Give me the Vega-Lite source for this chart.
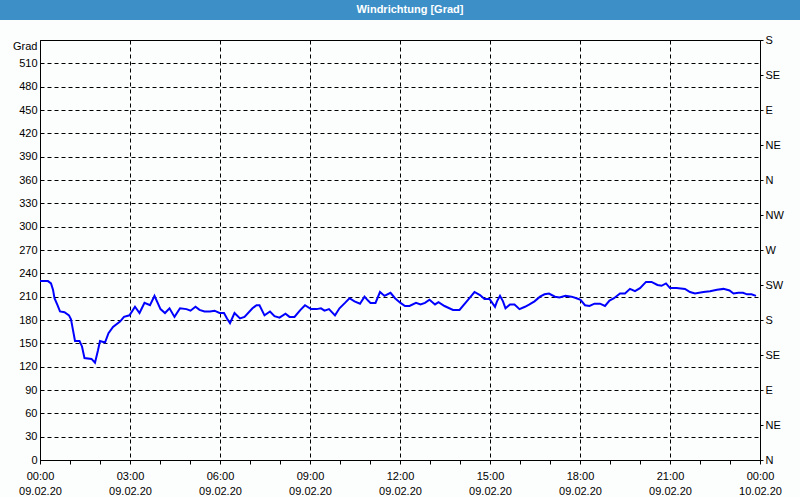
{
  "$schema": "https://vega.github.io/schema/vega-lite/v6.json",
  "padding": 0,
  "background": "#fcfdfd",
  "spacing": 20,
  "center": true,
  "bounds": "flush",
  "config": {
    "font": "Liberation Sans",
    "axis": {"labelFont": "Liberation Sans", "labelFontSize": 11, "labelColor": "#000", "titleFont": "Liberation Sans", "titleFontSize": 11, "titleFontWeight": "normal", "titleColor": "#000", "domainColor": "#000", "tickColor": "#000", "gridColor": "#000", "gridDash": [4, 3], "gridWidth": 1}
  },
  "datasets": {
    "wind": [
      {"t": "2020-02-09T00:00:00", "v": 230}, {"t": "2020-02-09T00:16:00", "v": 230}, {"t": "2020-02-09T00:22:00", "v": 227},
      {"t": "2020-02-09T00:26:00", "v": 219}, {"t": "2020-02-09T00:29:00", "v": 208}, {"t": "2020-02-09T00:35:00", "v": 199},
      {"t": "2020-02-09T00:40:00", "v": 191}, {"t": "2020-02-09T00:49:00", "v": 190}, {"t": "2020-02-09T00:58:00", "v": 186},
      {"t": "2020-02-09T01:02:00", "v": 181}, {"t": "2020-02-09T01:06:00", "v": 167}, {"t": "2020-02-09T01:10:00", "v": 153},
      {"t": "2020-02-09T01:19:00", "v": 153}, {"t": "2020-02-09T01:24:00", "v": 146}, {"t": "2020-02-09T01:29:00", "v": 131},
      {"t": "2020-02-09T01:43:00", "v": 130}, {"t": "2020-02-09T01:50:00", "v": 125}, {"t": "2020-02-09T01:56:00", "v": 141},
      {"t": "2020-02-09T02:00:00", "v": 153}, {"t": "2020-02-09T02:10:00", "v": 151}, {"t": "2020-02-09T02:17:00", "v": 163},
      {"t": "2020-02-09T02:26:00", "v": 171}, {"t": "2020-02-09T02:40:00", "v": 178}, {"t": "2020-02-09T02:48:00", "v": 184},
      {"t": "2020-02-09T02:59:00", "v": 186}, {"t": "2020-02-09T03:10:00", "v": 197}, {"t": "2020-02-09T03:19:00", "v": 189},
      {"t": "2020-02-09T03:29:00", "v": 202}, {"t": "2020-02-09T03:40:00", "v": 199}, {"t": "2020-02-09T03:49:00", "v": 211},
      {"t": "2020-02-09T04:01:00", "v": 194}, {"t": "2020-02-09T04:10:00", "v": 189}, {"t": "2020-02-09T04:19:00", "v": 195},
      {"t": "2020-02-09T04:29:00", "v": 184}, {"t": "2020-02-09T04:40:00", "v": 195}, {"t": "2020-02-09T04:53:00", "v": 194},
      {"t": "2020-02-09T05:01:00", "v": 192}, {"t": "2020-02-09T05:11:00", "v": 197}, {"t": "2020-02-09T05:19:00", "v": 193},
      {"t": "2020-02-09T05:29:00", "v": 191}, {"t": "2020-02-09T05:40:00", "v": 191}, {"t": "2020-02-09T05:49:00", "v": 192},
      {"t": "2020-02-09T05:59:00", "v": 189}, {"t": "2020-02-09T06:08:00", "v": 189}, {"t": "2020-02-09T06:14:00", "v": 182},
      {"t": "2020-02-09T06:20:00", "v": 176}, {"t": "2020-02-09T06:29:00", "v": 189}, {"t": "2020-02-09T06:40:00", "v": 182},
      {"t": "2020-02-09T06:49:00", "v": 184}, {"t": "2020-02-09T07:05:00", "v": 195}, {"t": "2020-02-09T07:13:00", "v": 199},
      {"t": "2020-02-09T07:19:00", "v": 199}, {"t": "2020-02-09T07:29:00", "v": 186}, {"t": "2020-02-09T07:40:00", "v": 191},
      {"t": "2020-02-09T07:49:00", "v": 185}, {"t": "2020-02-09T07:59:00", "v": 183}, {"t": "2020-02-09T08:11:00", "v": 188},
      {"t": "2020-02-09T08:19:00", "v": 184}, {"t": "2020-02-09T08:29:00", "v": 184}, {"t": "2020-02-09T08:41:00", "v": 193},
      {"t": "2020-02-09T08:50:00", "v": 199}, {"t": "2020-02-09T09:02:00", "v": 194}, {"t": "2020-02-09T09:13:00", "v": 194},
      {"t": "2020-02-09T09:22:00", "v": 195}, {"t": "2020-02-09T09:29:00", "v": 192}, {"t": "2020-02-09T09:38:00", "v": 194},
      {"t": "2020-02-09T09:50:00", "v": 186}, {"t": "2020-02-09T09:59:00", "v": 195}, {"t": "2020-02-09T10:10:00", "v": 202},
      {"t": "2020-02-09T10:19:00", "v": 208}, {"t": "2020-02-09T10:29:00", "v": 204}, {"t": "2020-02-09T10:40:00", "v": 201},
      {"t": "2020-02-09T10:49:00", "v": 210}, {"t": "2020-02-09T10:56:00", "v": 205}, {"t": "2020-02-09T11:01:00", "v": 202},
      {"t": "2020-02-09T11:11:00", "v": 202}, {"t": "2020-02-09T11:20:00", "v": 216}, {"t": "2020-02-09T11:29:00", "v": 211},
      {"t": "2020-02-09T11:41:00", "v": 215}, {"t": "2020-02-09T11:50:00", "v": 208}, {"t": "2020-02-09T12:01:00", "v": 202},
      {"t": "2020-02-09T12:10:00", "v": 198}, {"t": "2020-02-09T12:19:00", "v": 198}, {"t": "2020-02-09T12:32:00", "v": 202},
      {"t": "2020-02-09T12:41:00", "v": 200}, {"t": "2020-02-09T12:50:00", "v": 202}, {"t": "2020-02-09T12:59:00", "v": 206},
      {"t": "2020-02-09T13:10:00", "v": 200}, {"t": "2020-02-09T13:17:00", "v": 203}, {"t": "2020-02-09T13:29:00", "v": 198},
      {"t": "2020-02-09T13:46:00", "v": 193}, {"t": "2020-02-09T13:59:00", "v": 193}, {"t": "2020-02-09T14:16:00", "v": 206},
      {"t": "2020-02-09T14:29:00", "v": 216}, {"t": "2020-02-09T14:40:00", "v": 212}, {"t": "2020-02-09T14:49:00", "v": 207},
      {"t": "2020-02-09T14:59:00", "v": 207}, {"t": "2020-02-09T15:10:00", "v": 197}, {"t": "2020-02-09T15:14:00", "v": 204},
      {"t": "2020-02-09T15:20:00", "v": 211}, {"t": "2020-02-09T15:26:00", "v": 204}, {"t": "2020-02-09T15:31:00", "v": 195},
      {"t": "2020-02-09T15:40:00", "v": 200}, {"t": "2020-02-09T15:49:00", "v": 200}, {"t": "2020-02-09T15:59:00", "v": 194},
      {"t": "2020-02-09T16:10:00", "v": 197}, {"t": "2020-02-09T16:19:00", "v": 200}, {"t": "2020-02-09T16:29:00", "v": 204},
      {"t": "2020-02-09T16:40:00", "v": 210}, {"t": "2020-02-09T16:49:00", "v": 213}, {"t": "2020-02-09T16:58:00", "v": 214},
      {"t": "2020-02-09T17:10:00", "v": 210}, {"t": "2020-02-09T17:19:00", "v": 209}, {"t": "2020-02-09T17:31:00", "v": 211},
      {"t": "2020-02-09T17:43:00", "v": 210}, {"t": "2020-02-09T17:53:00", "v": 208}, {"t": "2020-02-09T18:01:00", "v": 206},
      {"t": "2020-02-09T18:10:00", "v": 199}, {"t": "2020-02-09T18:19:00", "v": 198}, {"t": "2020-02-09T18:29:00", "v": 201},
      {"t": "2020-02-09T18:40:00", "v": 201}, {"t": "2020-02-09T18:50:00", "v": 198}, {"t": "2020-02-09T18:59:00", "v": 205},
      {"t": "2020-02-09T19:08:00", "v": 208}, {"t": "2020-02-09T19:20:00", "v": 214}, {"t": "2020-02-09T19:30:00", "v": 214},
      {"t": "2020-02-09T19:40:00", "v": 220}, {"t": "2020-02-09T19:50:00", "v": 217}, {"t": "2020-02-09T20:00:00", "v": 221},
      {"t": "2020-02-09T20:12:00", "v": 229}, {"t": "2020-02-09T20:23:00", "v": 229}, {"t": "2020-02-09T20:35:00", "v": 225},
      {"t": "2020-02-09T20:43:00", "v": 224}, {"t": "2020-02-09T20:52:00", "v": 227}, {"t": "2020-02-09T21:00:00", "v": 221},
      {"t": "2020-02-09T21:13:00", "v": 221}, {"t": "2020-02-09T21:30:00", "v": 220}, {"t": "2020-02-09T21:40:00", "v": 216},
      {"t": "2020-02-09T21:50:00", "v": 214}, {"t": "2020-02-09T22:07:00", "v": 216}, {"t": "2020-02-09T22:20:00", "v": 217},
      {"t": "2020-02-09T22:34:00", "v": 219}, {"t": "2020-02-09T22:47:00", "v": 220}, {"t": "2020-02-09T22:59:00", "v": 218},
      {"t": "2020-02-09T23:07:00", "v": 214}, {"t": "2020-02-09T23:17:00", "v": 215}, {"t": "2020-02-09T23:26:00", "v": 215},
      {"t": "2020-02-09T23:34:00", "v": 213}, {"t": "2020-02-09T23:43:00", "v": 213}, {"t": "2020-02-09T23:52:00", "v": 211}
    ]
  },
  "vconcat": [
    {
      "width": 800,
      "height": 20,
      "view": {"fill": "#3c8fc7", "stroke": null},
      "data": {"values": [{"label": "Windrichtung [Grad]"}]},
      "mark": {"type": "text", "color": "#ffffff", "font": "Liberation Sans", "fontSize": 11, "fontWeight": "bold", "dx": 10, "baseline": "middle", "align": "center"},
      "encoding": {"text": {"field": "label", "type": "nominal"}}
    },
    {
      "width": 720,
      "height": 420,
      "view": {"stroke": "#000", "strokeWidth": 1},
      "data": {"name": "wind"},
      "layer": [
        {
          "mark": {"type": "line", "color": "#0000ff", "strokeWidth": 2},
          "encoding": {
            "x": {
              "field": "t", "type": "temporal",
              "scale": {"domain": [{"year": 2020, "month": 2, "date": 9}, {"year": 2020, "month": 2, "date": 10}], "nice": false},
              "axis": {
                "title": null,
                "tickCount": 30,
                "values": [
                  {"year": 2020, "month": 2, "date": 9, "hours": 0}, {"year": 2020, "month": 2, "date": 9, "hours": 1},
                  {"year": 2020, "month": 2, "date": 9, "hours": 2}, {"year": 2020, "month": 2, "date": 9, "hours": 3},
                  {"year": 2020, "month": 2, "date": 9, "hours": 4}, {"year": 2020, "month": 2, "date": 9, "hours": 5},
                  {"year": 2020, "month": 2, "date": 9, "hours": 6}, {"year": 2020, "month": 2, "date": 9, "hours": 7},
                  {"year": 2020, "month": 2, "date": 9, "hours": 8}, {"year": 2020, "month": 2, "date": 9, "hours": 9},
                  {"year": 2020, "month": 2, "date": 9, "hours": 10}, {"year": 2020, "month": 2, "date": 9, "hours": 11},
                  {"year": 2020, "month": 2, "date": 9, "hours": 12}, {"year": 2020, "month": 2, "date": 9, "hours": 13},
                  {"year": 2020, "month": 2, "date": 9, "hours": 14}, {"year": 2020, "month": 2, "date": 9, "hours": 15},
                  {"year": 2020, "month": 2, "date": 9, "hours": 16}, {"year": 2020, "month": 2, "date": 9, "hours": 17},
                  {"year": 2020, "month": 2, "date": 9, "hours": 18}, {"year": 2020, "month": 2, "date": 9, "hours": 19},
                  {"year": 2020, "month": 2, "date": 9, "hours": 20}, {"year": 2020, "month": 2, "date": 9, "hours": 21},
                  {"year": 2020, "month": 2, "date": 9, "hours": 22}, {"year": 2020, "month": 2, "date": 9, "hours": 23},
                  {"year": 2020, "month": 2, "date": 10, "hours": 0}
                ],
                "tickSize": 4,
                "labelOverlap": false,
                "labelFlush": false,
                "labelPadding": 6,
                "labelLineHeight": 15,
                "labelBaseline": "top",
                "labelExpr": "hours(datum.value) % 3 == 0 ? [timeFormat(datum.value, '%H:%M'), timeFormat(datum.value, '%d.%m.%y')] : ''",
                "grid": true,
                "gridOpacity": {"condition": {"test": "hours(datum.value) % 3 == 0", "value": 1}, "value": 0}
              }
            },
            "y": {
              "field": "v", "type": "quantitative",
              "scale": {"domain": [0, 540], "nice": false},
              "axis": {
                "orient": "left",
                "values": [0, 30, 60, 90, 120, 150, 180, 210, 240, 270, 300, 330, 360, 390, 420, 450, 480, 510],
                "tickCount": 30,
                "ticks": false,
                "labelPadding": 3,
                "grid": true,
                "title": "Grad",
                "titleAngle": 0,
                "titleAlign": "right",
                "titleBaseline": "middle",
                "titleX": -3,
                "titleY": 6
              }
            }
          }
        },
        {
          "mark": {"type": "line", "opacity": 0},
          "encoding": {
            "x": {"field": "t", "type": "temporal"},
            "y": {
              "field": "v", "type": "quantitative",
              "axis": {
                "orient": "right",
                "values": [0, 45, 90, 135, 180, 225, 270, 315, 360, 405, 450, 495, 540],
                "tickCount": 20,
                "labelExpr": "['N','NE','E','SE','S','SW','W','NW'][round(datum.value / 45) % 8]",
                "grid": false,
                "tickSize": 3,
                "labelPadding": 2,
                "labelFlush": false,
                "title": null
              }
            }
          }
        }
      ],
      "resolve": {"axis": {"y": "independent"}}
    }
  ]
}
